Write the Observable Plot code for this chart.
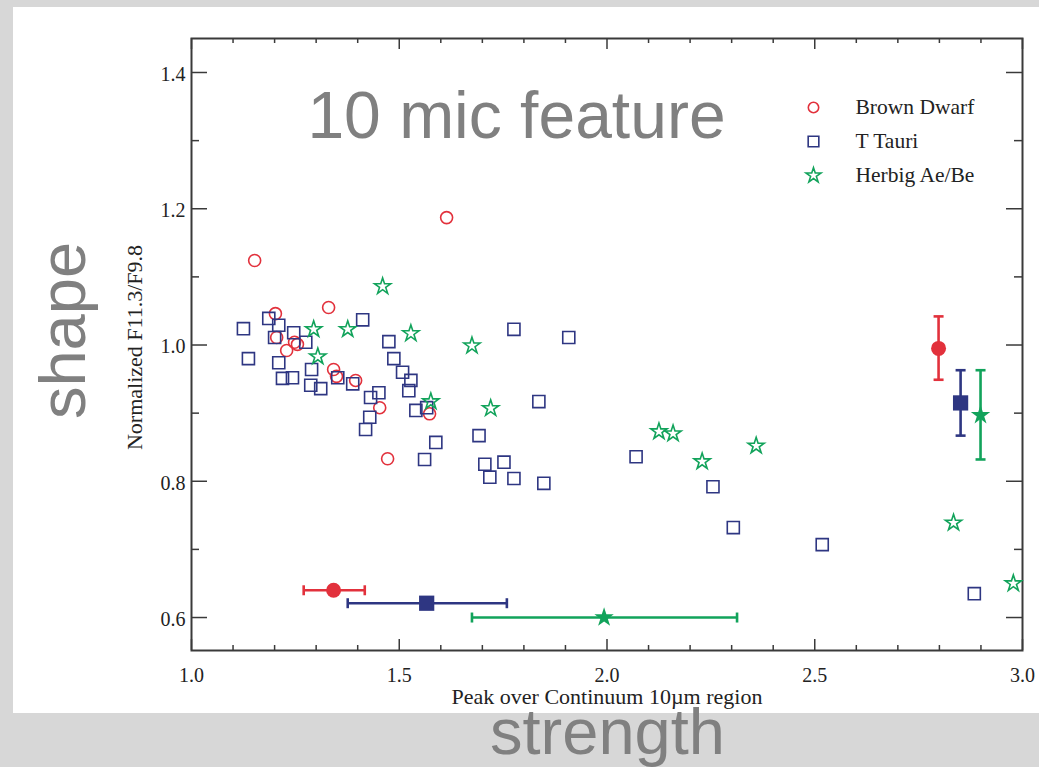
<!DOCTYPE html>
<html>
<head>
<meta charset="utf-8">
<script src="https://cdn.jsdelivr.net/npm/d3@7"></script>
<script src="https://cdn.jsdelivr.net/npm/@observablehq/plot@0.6"></script>
<style>
  html, body { margin: 0; padding: 0; background: #d7d7d7; }
  #wrap { position: relative; width: 1039px; height: 767px; overflow: hidden; }
  #panel { position: absolute; left: 13px; top: 7px; width: 1026px; height: 706px; background: #ffffff; }
  #chart { position: absolute; left: 0; top: 0; }
</style>
</head>
<body>
<div id="wrap"><div id="panel"></div><div id="chart"></div></div>
<script>
// ---- data ----
const series = ["Brown Dwarf", "T Tauri", "Herbig Ae/Be"];
const seriesColors = ["#e2313c", "#2e3682", "#12a35b"];
const seriesSymbols = ["circle", "square", "star"];

// [peak over continuum, normalized F11.3/F9.8]
const brownDwarf = [
  [1.152, 1.124], [1.614, 1.187], [1.202, 1.046], [1.330, 1.055], [1.205, 1.011],
  [1.229, 0.992], [1.248, 1.004], [1.255, 1.001], [1.342, 0.964], [1.349, 0.954],
  [1.395, 0.948], [1.453, 0.908], [1.472, 0.833], [1.573, 0.899]
];
const tTauri = [
  [1.125, 1.024], [1.137, 0.980], [1.186, 1.039], [1.210, 1.029], [1.200, 1.011],
  [1.210, 0.974], [1.219, 0.951], [1.243, 0.952], [1.246, 1.018], [1.275, 1.004],
  [1.289, 0.964], [1.287, 0.941], [1.311, 0.936], [1.352, 0.952], [1.388, 0.943],
  [1.412, 1.037], [1.475, 1.005], [1.487, 0.980], [1.508, 0.960], [1.528, 0.948],
  [1.523, 0.933], [1.451, 0.930], [1.431, 0.923], [1.429, 0.894], [1.419, 0.876],
  [1.540, 0.904], [1.566, 0.908], [1.588, 0.857], [1.561, 0.832], [1.776, 1.023],
  [1.908, 1.011], [1.836, 0.917], [1.692, 0.867], [1.706, 0.825], [1.752, 0.828],
  [1.718, 0.806], [1.776, 0.804], [1.848, 0.797], [2.070, 0.836], [2.255, 0.792],
  [2.304, 0.732], [2.518, 0.707], [2.884, 0.635]
];
const herbig = [
  [1.460, 1.086], [1.294, 1.023], [1.376, 1.023], [1.304, 0.983], [1.528, 1.017],
  [1.576, 0.917], [1.675, 0.999], [1.720, 0.907], [2.125, 0.873], [2.159, 0.870],
  [2.229, 0.829], [2.359, 0.852], [2.834, 0.739], [2.978, 0.650]
];

// mean shape with vertical error bars: [x, y, yLow, yHigh]
const meanShape = [
  [2.798, 0.995, 0.949, 1.042],
  [2.851, 0.915, 0.867, 0.963],
  [2.899, 0.897, 0.832, 0.963]
];
// mean strength with horizontal error bars: [x, y, xLow, xHigh]
const meanStrength = [
  [1.342, 0.640, 1.270, 1.417],
  [1.566, 0.621, 1.376, 1.759],
  [1.993, 0.600, 1.675, 2.313]
];

const xMajor = [1.0, 1.5, 2.0, 2.5, 3.0];
const xMinor = [1.1, 1.2, 1.3, 1.4, 1.6, 1.7, 1.8, 1.9, 2.1, 2.2, 2.3, 2.4, 2.6, 2.7, 2.8, 2.9];
const yMajor = [0.6, 0.8, 1.0, 1.2, 1.4];
const yMinor = [0.7, 0.9, 1.1, 1.3];

const xLabel = "Peak over Continuum 10µm region";
const yLabel = "Normalized F11.3/F9.8";
const titleText = "10 mic feature";
const shapeText = "shape";
const strengthText = "strength";

// ---- layout ----
const W = 1039, H = 767;
const mL = 191, mR = 17, mT = 38, mB = 117;
const plotW = W - mL - mR, plotH = H - mT - mB;
const serif = "'Liberation Serif', 'Times New Roman', serif";
const sans = "'Liberation Sans', Arial, Helvetica, sans-serif";
const ink = "#222";
const axisInk = "#3a3a3a";

const openR = [6.0, 6.8, 5.1];
const filledR = [7.5, 8.6, 6.1];
const legendR = [5.2, 6.0, 4.7];

const capV = { draw(ctx) { ctx.moveTo(0, -5); ctx.lineTo(0, 5); } };
const capH = { draw(ctx) { ctx.moveTo(-5, 0); ctx.lineTo(5, 0); } };

const groups = [brownDwarf, tTauri, herbig];
const marks = [];

// inward ticks on all four sides
const tick = (vals, len, side) => {
  if (side === "bottom") return Plot.ruleX(vals, {x: d => d, insetTop: plotH - len, stroke: axisInk, strokeWidth: 1.5});
  if (side === "top") return Plot.ruleX(vals, {x: d => d, insetBottom: plotH - len, stroke: axisInk, strokeWidth: 1.5});
  if (side === "left") return Plot.ruleY(vals, {y: d => d, insetRight: plotW - len, stroke: axisInk, strokeWidth: 1.5});
  return Plot.ruleY(vals, {y: d => d, insetLeft: plotW - len, stroke: axisInk, strokeWidth: 1.5});
};
marks.push(
  tick(xMajor, 11, "bottom"), tick(xMinor, 5, "bottom"),
  tick(xMajor, 11, "top"), tick(xMinor, 5, "top"),
  tick(yMajor, 16, "left"), tick(yMinor, 8, "left"),
  tick(yMajor, 16, "right"), tick(yMinor, 8, "right"),
  Plot.frame({stroke: axisInk, strokeWidth: 2})
);

// tick labels
marks.push(
  Plot.text(xMajor, {x: d => d, frameAnchor: "bottom", dy: 31, lineAnchor: "bottom",
    text: d => d3.format(".1f")(d), fontSize: 20, fontFamily: serif, fill: ink}),
  Plot.text(yMajor, {y: d => d, frameAnchor: "left", dx: -6, dy: 2, textAnchor: "end", lineAnchor: "middle",
    text: d => d3.format(".1f")(d), fontSize: 20, fontFamily: serif, fill: ink})
);

// axis labels
marks.push(
  Plot.text([xLabel], {frameAnchor: "bottom", dy: 53, textAnchor: "middle", lineAnchor: "bottom", text: d => d,
    fontSize: 22, fontFamily: serif, fill: ink}),
  Plot.text([yLabel], {frameAnchor: "left", dx: -50, dy: 3, rotate: -90, textAnchor: "middle", lineAnchor: "bottom", text: d => d,
    fontSize: 22, fontFamily: serif, fill: ink})
);

// open markers
groups.forEach((g, i) => {
  marks.push(Plot.dot(g, {x: d => d[0], y: d => d[1], symbol: seriesSymbols[i], r: openR[i],
    stroke: seriesColors[i], fill: "none", strokeWidth: 1.6}));
});

// error bars and mean markers
meanShape.forEach((d, i) => {
  const c = seriesColors[i];
  marks.push(
    Plot.ruleX([d], {x: e => e[0], y1: e => e[2], y2: e => e[3], stroke: c, strokeWidth: 2.6}),
    Plot.dot([d], {x: e => e[0], y: e => e[2], symbol: capH, stroke: c, fill: "none", strokeWidth: 2.6}),
    Plot.dot([d], {x: e => e[0], y: e => e[3], symbol: capH, stroke: c, fill: "none", strokeWidth: 2.6}),
    Plot.dot([d], {x: e => e[0], y: e => e[1], symbol: seriesSymbols[i], r: filledR[i], fill: c, stroke: "none"})
  );
});
meanStrength.forEach((d, i) => {
  const c = seriesColors[i];
  marks.push(
    Plot.ruleY([d], {y: e => e[1], x1: e => e[2], x2: e => e[3], stroke: c, strokeWidth: 2.6}),
    Plot.dot([d], {x: e => e[2], y: e => e[1], symbol: capV, stroke: c, fill: "none", strokeWidth: 2.6}),
    Plot.dot([d], {x: e => e[3], y: e => e[1], symbol: capV, stroke: c, fill: "none", strokeWidth: 2.6}),
    Plot.dot([d], {x: e => e[0], y: e => e[1], symbol: seriesSymbols[i], r: filledR[i], fill: c, stroke: "none"})
  );
});

// legend (inside the frame, top right)
series.forEach((name, i) => {
  marks.push(
    Plot.dot([name], {frameAnchor: "top-left", dx: 813 - mL, dy: 107 - mT + i * 34,
      symbol: seriesSymbols[i], r: legendR[i], stroke: seriesColors[i], fill: "none", strokeWidth: 1.6}),
    Plot.text([name], {frameAnchor: "top-left", dx: 855 - mL, dy: 107 - mT + i * 34, text: d => d,
      textAnchor: "start", lineAnchor: "middle", fontSize: 21.5, fontFamily: serif, fill: ink})
  );
});

// big annotations
marks.push(
  Plot.text([titleText], {frameAnchor: "top", dx: 516 - (mL + plotW / 2), dy: 137 - mT, textAnchor: "middle", lineAnchor: "bottom",
    text: d => d, fontSize: 66, fontFamily: sans, fill: "#808080"}),
  Plot.text([shapeText], {frameAnchor: "left", dx: 84 - mL, dy: 330 - (mT + plotH / 2), rotate: -90, textAnchor: "middle", lineAnchor: "bottom",
    text: d => d, fontSize: 65, fontFamily: sans, fill: "#808080"}),
  Plot.text([strengthText], {frameAnchor: "bottom", dx: 607 - (mL + plotW / 2), dy: 753 - (mT + plotH), textAnchor: "middle", lineAnchor: "bottom",
    text: d => d, fontSize: 65, fontFamily: sans, fill: "#808080"})
);

const chart = Plot.plot({
  width: W, height: H,
  marginLeft: mL, marginRight: mR, marginTop: mT, marginBottom: mB,
  x: {domain: [1, 3], axis: null},
  y: {domain: [0.5516, 1.4499], axis: null},
  style: {background: "transparent", overflow: "visible", fontFamily: serif},
  marks
});
document.getElementById("chart").appendChild(chart);
</script>
</body>
</html>
